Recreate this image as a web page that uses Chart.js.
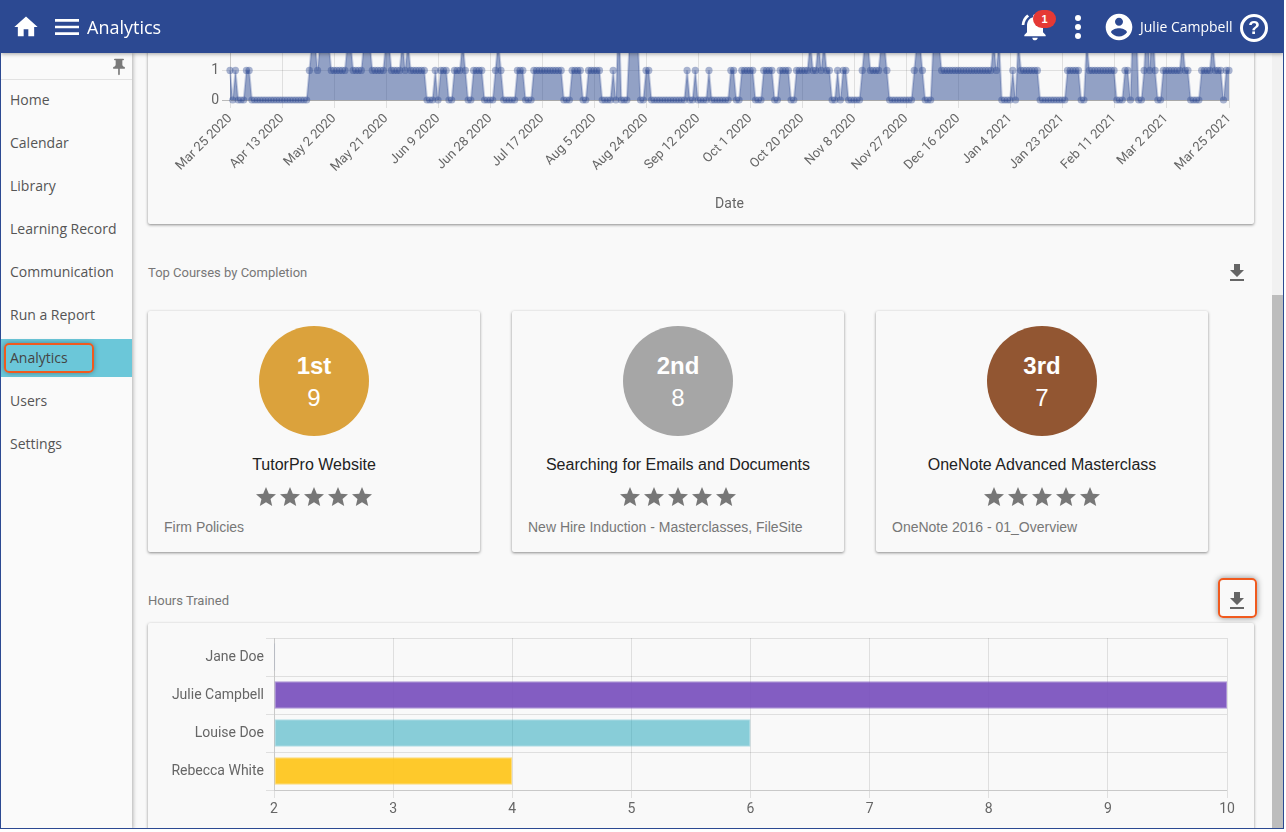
<!DOCTYPE html>
<html>
<head>
<meta charset="utf-8">
<title>Analytics</title>
<script src="https://cdn.jsdelivr.net/npm/chart.js@4"></script>
<style>
html, body { margin: 0; padding: 0; background: #fff; overflow: hidden; }
#page { position: absolute; left: 0; top: 0; width: 1282px; height: 827px; border: 1px solid #2c4992; background: #f9f9f9; overflow: hidden; }
#page * { box-sizing: border-box; }
.abs { position: absolute; }
#header { position: absolute; left: 0; top: 0; width: 1282px; height: 52px; background: #2c4992; z-index: 10; box-shadow: 0 1px 4px rgba(0,0,0,.35); color: #fff; font-family: "Open Sans", sans-serif; }
#header svg { position: absolute; fill: #fff; }
#sidebar { position: absolute; left: 0; top: 52px; width: 131px; height: 776px; background: #fafafa; z-index: 5; box-shadow: 1px 0 4px rgba(0,0,0,.3); font-family: "Open Sans", sans-serif; font-size: 14px; color: #555; }
#sidebar .item { position: absolute; left: 0; width: 131px; height: 38px; line-height: 38px; padding-left: 9px; }
#sidebar .active { background: #6bc7d9; color: #444; }
.card { position: absolute; background: #f9f9f9; border-radius: 2px; box-shadow: 0 1px 3px rgba(0,0,0,.45); }
.section { position: absolute; left: 147px; font: 13px Roboto, sans-serif; color: #777; }
.medal { position: absolute; top: 15px; left: 111px; width: 110px; height: 110px; border-radius: 50%; color: #fff; text-align: center; font-family: "Liberation Sans", sans-serif; }
.medal b { position: absolute; left: 0; right: 0; top: 26px; font-size: 24px; line-height: 28px; }
.medal span { position: absolute; left: 0; right: 0; top: 58px; font-size: 24px; line-height: 28px; }
.course { position: absolute; left: 0; right: 0; top: 145px; text-align: center; font: 16px "Liberation Sans", sans-serif; color: #222; }
.stars { position: absolute; left: -1px; right: 0; top: 174px; text-align: center; height: 24px; font-size: 0; }
.stars svg { width: 24px; height: 24px; fill: #777; }
.tags { position: absolute; left: 16px; top: 208px; font: 14px "Liberation Sans", sans-serif; color: #777; }
.dl { position: absolute; width: 24px; height: 24px; fill: #666; }
#scrolltrack { position: absolute; left: 1271px; top: 52px; width: 11px; height: 776px; background: #f1f1f1; }
#scrollthumb { position: absolute; left: 1271px; top: 294px; width: 11px; height: 534px; background: #bdbdbd; }
canvas { position: absolute; display: block; }
</style>
</head>
<body>
<div id="page">
  <div class="card" style="left:147px;top:-20px;width:1106px;height:243px"></div>
  <canvas id="activityChart" width="1106" height="224" style="left:147px;top:-1px"></canvas>

  <div class="section" style="top:264px">Top Courses by Completion</div>
  <svg class="dl" style="left:1224px;top:260px" viewBox="0 0 24 24"><path d="M19 9h-4V3H9v6H5l7 7 7-7zM5 18v2h14v-2H5z"/></svg>

  <div id="cards"></div>

  <div class="section" style="top:592px">Hours Trained</div>
  <svg class="dl" style="left:1224px;top:588px" viewBox="0 0 24 24"><path d="M19 9h-4V3H9v6H5l7 7 7-7zM5 18v2h14v-2H5z"/></svg>
  <div class="abs" style="left:1217px;top:577px;width:39px;height:40px;border:2px solid #f05a1e;border-radius:5px;box-shadow:0 0 6px rgba(0,0,0,.45)"></div>

  <div class="card" style="left:147px;top:622px;width:1106px;height:240px"></div>
  <canvas id="hoursChart" width="1106" height="205" style="left:147px;top:622px"></canvas>

  <div id="scrolltrack"></div>
  <div id="scrollthumb"></div>

  <div id="sidebar">
    <svg class="abs" style="left:108px;top:4px;width:20px;height:20px;fill:#7a7a7a" viewBox="0 0 24 24"><path d="M16 9V4h1c.55 0 1-.45 1-1s-.45-1-1-1H7c-.55 0-1 .45-1 1s.45 1 1 1h1v5c0 1.66-1.34 3-3 3v2h5.97v7l1 1 1-1v-7H19v-2c-1.66 0-3-1.34-3-3z"/></svg>
    <div class="abs" style="left:0;top:26px;width:131px;height:1px;background:#e2e2e2"></div>
    <div id="menu"></div>
    <div class="abs" style="left:3px;top:290px;width:90px;height:30px;border:2px solid #f05a1e;border-radius:5px;box-shadow:0 0 5px rgba(0,0,0,.35)"></div>
  </div>

  <div id="header">
    <svg style="left:11px;top:12px;width:28px;height:28px" viewBox="0 0 24 24"><path d="M10 20v-6h4v6h5v-8h3L12 3 2 12h3v8z"/></svg>
    <svg style="left:50px;top:10px;width:32px;height:32px" viewBox="0 0 24 24"><path d="M3 18h18v-2H3v2zm0-5h18v-2H3v2zm0-7v2h18V6H3z"/></svg>
    <div class="abs" style="left:86px;top:13px;font-size:18px;line-height:26px">Analytics</div>
    <svg style="left:1018px;top:10px;width:32px;height:32px" viewBox="0 0 24 24"><path d="M7.58 4.08L6.15 2.65C3.75 4.48 2.17 7.3 2.03 10.5h2c.15-2.65 1.51-4.97 3.55-6.42zm12.39 6.42h2c-.15-3.2-1.73-6.02-4.12-7.85l-1.42 1.43c2.02 1.45 3.39 3.77 3.54 6.42zM18 11c0-3.07-1.64-5.64-4.5-6.32V4c0-.83-.67-1.5-1.5-1.5s-1.5.67-1.5 1.5v.68C7.63 5.36 6 7.92 6 11v5l-2 2v1h16v-1l-2-2v-5zm-6 11c.14 0 .27-.01.4-.04.65-.14 1.18-.58 1.44-1.18.1-.24.15-.5.15-.78h-4c.01 1.1.9 2 2.01 2z"/></svg>
    <div class="abs" style="left:1032px;top:9px;width:23px;height:18px;border-radius:9px;background:#e53935;color:#fff;text-align:center;font:bold 11px/18px 'Liberation Sans',sans-serif">1</div>
    <svg style="left:1064px;top:10px;width:24px;height:32px" viewBox="0 0 24 32"><circle cx="13" cy="7" r="3"/><circle cx="13" cy="16" r="3"/><circle cx="13" cy="25" r="3"/></svg>
    <svg style="left:1102px;top:10px;width:32px;height:32px" viewBox="0 0 24 24"><path d="M12 2C6.48 2 2 6.48 2 12s4.48 10 10 10 10-4.48 10-10S17.52 2 12 2zm0 3c1.66 0 3 1.34 3 3s-1.34 3-3 3-3-1.34-3-3 1.34-3 3-3zm0 14.2c-2.5 0-4.71-1.28-6-3.22.03-1.99 4-3.08 6-3.08 1.99 0 5.97 1.09 6 3.08-1.29 1.94-3.5 3.22-6 3.22z"/></svg>
    <div class="abs" style="left:1139px;top:16px;font-size:14px;line-height:20px">Julie Campbell</div>
    <div class="abs" style="left:1239px;top:13px;width:28px;height:28px;border:3px solid #fff;border-radius:50%;text-align:center;font:bold 19px/22px 'Liberation Sans',sans-serif">?</div>
  </div>
</div>

<script>
// Activity per day, chart is scrolled so only the lower part shows
const startDate = Date.UTC(2020, 2, 25);
const monthNames = ['Jan', 'Feb', 'Mar', 'Apr', 'May', 'Jun', 'Jul', 'Aug', 'Sep', 'Oct', 'Nov', 'Dec'];
const dateTicks = ['Mar 25 2020', 'Apr 13 2020', 'May 2 2020', 'May 21 2020', 'Jun 9 2020', 'Jun 28 2020', 'Jul 17 2020',
    'Aug 5 2020', 'Aug 24 2020', 'Sep 12 2020', 'Oct 1 2020', 'Oct 20 2020', 'Nov 8 2020', 'Nov 27 2020', 'Dec 16 2020',
    'Jan 4 2021', 'Jan 23 2021', 'Feb 11 2021', 'Mar 2 2021', 'Mar 25 2021'];
const dailyActivity = [
    1,0,1,0,0,0,1,1,0,0,
    0,0,0,0,0,0,0,0,0,0,
    0,0,0,0,0,0,0,0,0,1,
    2,2,1,2,2,2,2,1,1,1,
    1,1,1,2,2,1,1,1,1,2,
    2,2,1,1,1,1,1,2,2,1,
    1,1,1,2,1,2,1,1,1,1,
    1,1,0,0,0,1,0,1,1,1,
    0,0,1,1,1,2,1,0,0,1,
    1,1,1,0,0,0,0,1,2,1,
    0,0,0,0,0,1,1,1,0,0,
    0,1,1,1,1,1,1,1,1,1,
    1,1,0,0,0,1,1,1,1,0,
    0,1,1,1,1,1,0,0,0,0,
    1,0,3,0,0,0,2,2,2,2,
    0,0,1,1,0,0,0,0,0,0,
    0,0,0,0,0,0,0,1,0,0,
    1,0,0,0,0,1,0,0,0,0,
    0,0,0,1,1,0,0,1,1,1,
    1,1,0,0,0,1,1,1,1,0,
    0,1,1,1,1,0,0,1,1,1,
    1,1,2,1,1,2,1,2,1,1,
    0,0,1,0,1,1,0,0,0,0,
    0,1,2,2,1,1,1,1,2,2,
    1,0,0,0,0,0,0,0,0,0,
    1,2,2,1,0,0,0,2,2,2,
    1,1,1,1,1,1,1,1,1,1,
    1,1,1,1,1,1,1,1,1,2,
    1,2,0,0,0,0,1,0,2,1,
    1,1,1,1,1,1,0,0,0,0,
    0,0,0,0,0,0,1,1,1,1,
    1,0,0,2,1,1,1,1,1,1,
    1,1,1,1,0,0,0,1,1,0,
    3,3,0,0,1,3,1,3,1,0,
    0,1,1,1,1,1,1,1,2,1,
    1,0,0,0,0,1,1,1,1,2,
    1,1,1,0,1,1
];

// Hours trained
const learners = ['Jane Doe', 'Julie Campbell', 'Louise Doe', 'Rebecca White'];
const hoursTrained = [2.01, 10, 6, 4];
const barColors = ['rgba(44, 73, 146, 0.4)', 'rgba(111, 66, 185, 0.85)', 'rgba(23, 162, 184, 0.5)', 'rgba(255, 193, 7, 0.85)'];
const barBorders = ['rgba(44, 73, 146, 0.4)', 'rgba(111, 66, 185, 0.55)', 'rgba(23, 162, 184, 0.3)', 'rgba(255, 193, 7, 0.5)'];

// Top courses
const courseRanks = ['1st', '2nd', '3rd'];
const courseCounts = [9, 8, 7];
const courseNames = ['TutorPro Website', 'Searching for Emails and Documents', 'OneNote Advanced Masterclass'];
const courseTags = ['Firm Policies', 'New Hire Induction - Masterclasses, FileSite', 'OneNote 2016 - 01_Overview'];
const medalColors = ['#dba23c', '#a6a6a6', '#925632'];

const menuItems = ['Home', 'Calendar', 'Library', 'Learning Record', 'Communication', 'Run a Report', 'Analytics', 'Users', 'Settings'];

// side menu
let menu = document.getElementById('menu');
menuItems.forEach((name, i) => {
    let item = document.createElement('div');
    item.className = name === 'Analytics' ? 'item active' : 'item';
    item.style.top = (28 + i * 43) + 'px';
    item.textContent = name;
    menu.appendChild(item);
});

// course cards
const starPath = '<svg viewBox="0 0 24 24"><path d="M12 17.27L18.18 21l-1.64-7.03L22 9.24l-7.19-.61L12 2 9.19 8.63 2 9.24l5.46 4.73L5.82 21z"/></svg>';
let cards = document.getElementById('cards');
courseRanks.forEach((rank, i) => {
    let card = document.createElement('div');
    card.className = 'card';
    card.style.cssText = `left:${147 + i * 364}px;top:310px;width:332px;height:241px`;
    card.innerHTML = `<div class="medal" style="background:${medalColors[i]}"><b>${rank}</b><span>${courseCounts[i]}</span></div>
        <div class="course">${courseNames[i]}</div>
        <div class="stars">${starPath.repeat(5)}</div>
        <div class="tags">${courseTags[i]}</div>`;
    cards.appendChild(card);
});

// every day from the start date, as axis categories
let dateLabels = dailyActivity.map((v, i) => {
    let d = new Date(startDate + i * 86400000);
    return `${monthNames[d.getUTCMonth()]} ${d.getUTCDate()} ${d.getUTCFullYear()}`;
});

Chart.defaults.font.family = 'Roboto, sans-serif';
Chart.defaults.font.size = 14;
Chart.defaults.color = '#666';
Chart.defaults.animation = false;

new Chart(document.getElementById('activityChart').getContext('2d'), {
    type: 'line',
    data: {
        labels: dateLabels,
        datasets: [{
            data: dailyActivity,
            borderColor: 'rgba(44, 73, 146, 0.25)',
            backgroundColor: 'rgba(44, 73, 146, 0.5)',
            borderWidth: 2,
            fill: true,
            tension: 0,
            clip: false,
            pointRadius: 3.6,
            pointBorderWidth: 0,
            pointBackgroundColor: 'rgba(44, 73, 146, 0.4)'
        }]
    },
    options: {
        responsive: false,
        layout: { padding: { top: 10, right: 25, bottom: 7.6 } },
        plugins: { legend: { display: false }, tooltip: { enabled: false } },
        scales: {
            x: {
                grid: { color: 'rgba(0, 0, 0, 0.1)' },
                ticks: { autoSkip: false, minRotation: 45, maxRotation: 45, color: '#666', font: { size: 13 } },
                title: { display: true, text: 'Date', color: '#666' },
                afterBuildTicks: axis => {
                    axis.ticks = dateTicks.map(t => ({ value: dateLabels.indexOf(t) }));
                },
                afterFit: axis => { axis.height = 116.4; }
            },
            y: {
                min: 0,
                max: 3,
                ticks: { stepSize: 1, color: '#666' },
                grid: { color: ctx => ctx.tick.value === 0 ? 'rgba(0, 0, 0, 0.25)' : 'rgba(0, 0, 0, 0.1)' },
                afterFit: axis => { axis.width = 82; }
            }
        }
    }
});

new Chart(document.getElementById('hoursChart').getContext('2d'), {
    type: 'bar',
    data: {
        labels: learners,
        datasets: [{
            data: hoursTrained,
            base: 2,
            backgroundColor: barColors,
            borderColor: barBorders,
            borderWidth: 1,
            borderSkipped: false
        }]
    },
    options: {
        responsive: false,
        indexAxis: 'y',
        layout: { padding: { top: 15, right: 27 } },
        plugins: { legend: { display: false }, tooltip: { enabled: false } },
        scales: {
            x: {
                min: 2,
                max: 10,
                ticks: { stepSize: 1, color: '#666' },
                grid: { color: 'rgba(0, 0, 0, 0.1)' },
                afterFit: axis => { axis.height = 38; }
            },
            y: {
                ticks: { color: '#666', padding: 2 },
                grid: { color: 'rgba(0, 0, 0, 0.1)' },
                afterFit: axis => { axis.width = 126; }
            }
        }
    }
});
</script>
</body>
</html>
